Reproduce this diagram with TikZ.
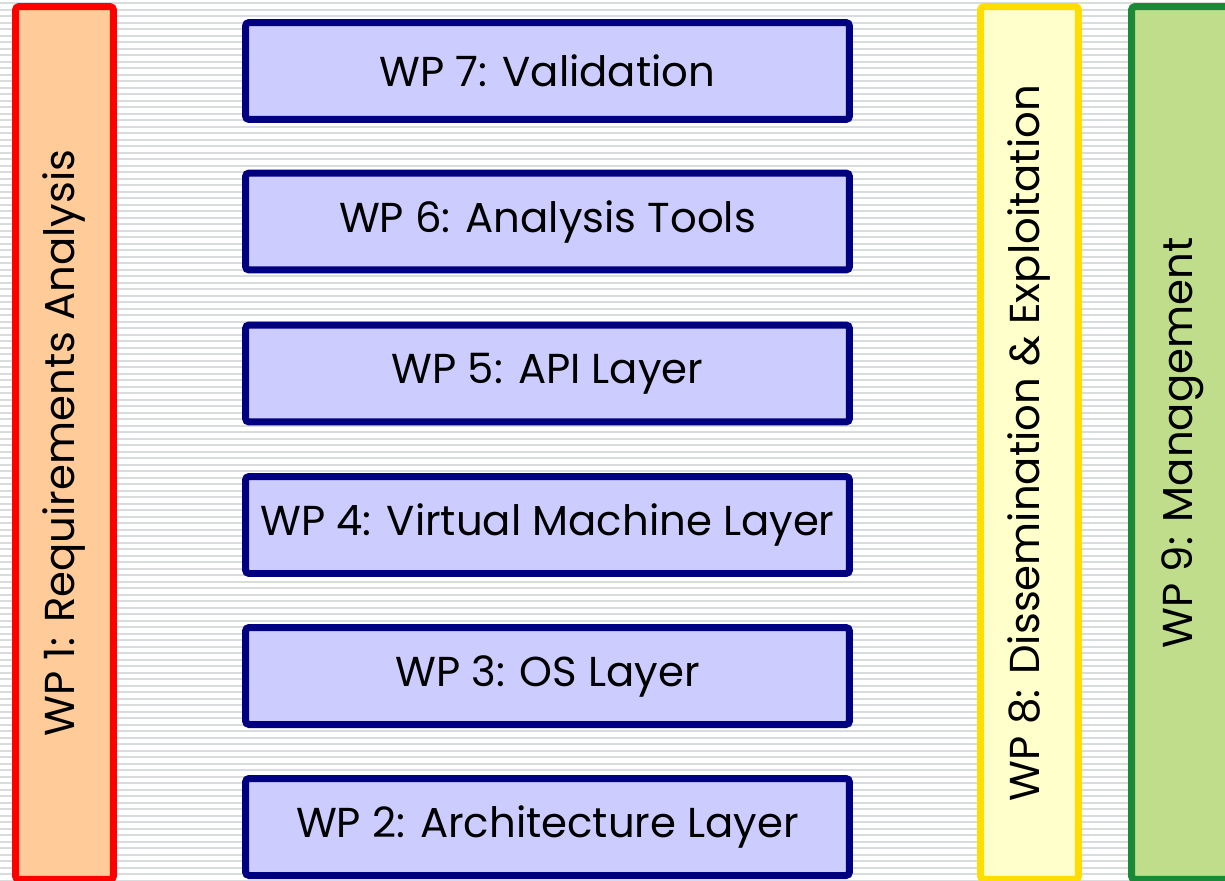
\documentclass[tikz,border=0pt]{standalone}
\usepackage{fontspec}
\setmainfont{Poppins}
\definecolor{wpred}{HTML}{FF0000}
\definecolor{wporange}{HTML}{FFCC99}
\definecolor{wpnavy}{HTML}{000080}
\definecolor{wplilac}{HTML}{CCCCFF}
\definecolor{wpyellow}{HTML}{FFDD00}
\definecolor{wpcream}{HTML}{FFFFCC}
\definecolor{wpgreen}{HTML}{1B8A36}
\definecolor{wplime}{HTML}{C0DD8C}
\definecolor{wpstripe}{HTML}{D8DCDC}
\tikzset{
  wpbox/.style={draw, line width=0.14cm, rounded corners=2pt, inner sep=0pt,
    font=\fontsize{23.8}{28}\selectfont},
  layer/.style={wpbox, draw=wpnavy, fill=wplilac, minimum width=12.08cm, minimum height=1.94cm},
  pillar/.style={wpbox, rotate=90, minimum width=17.46cm, minimum height=1.96cm}
}
\begin{document}
\begin{tikzpicture}[x=0.02cm, y=-0.02cm]
  \useasboundingbox (0,0) rectangle (1225,880);
  \clip (0,0) rectangle (1225,880);
  % striped background
  \fill[white] (0,0) rectangle (1225,880);
  \foreach \i in {0,...,135}
    \draw[wpstripe, line width=0.04cm] (0,3+6.5*\i) -- (1225,3+6.5*\i);

  % side work packages
  \node[pillar, draw=wpred, fill=wporange] (wp1) at (64.5,443) {WP 1: Requirements Analysis};
  \node[pillar, draw=wpyellow, fill=wpcream] (wp8) at (1029.5,443) {WP 8: Dissemination \& Exploitation};
  \node[pillar, draw=wpgreen, fill=wplime, minimum height=2.06cm] (wp9) at (1183,443) {WP 9: Management};

  % layered work packages
  \node[layer] (wp7) at (547.5,71) {WP 7: Validation};
  \node[layer] (wp6) at (547.5,221.5) {WP 6: Analysis Tools};
  \node[layer] (wp5) at (547.5,373.5) {WP 5: API Layer};
  \node[layer] (wp4) at (547.5,525) {WP 4: Virtual Machine Layer};
  \node[layer] (wp3) at (547.5,676) {WP 3: OS Layer};
  \node[layer] (wp2) at (547.5,827) {WP 2: Architecture Layer};
\end{tikzpicture}
\end{document}
